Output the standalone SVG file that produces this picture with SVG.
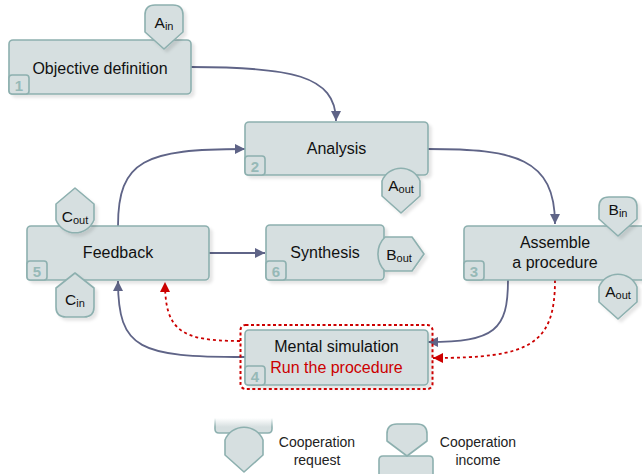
<svg xmlns="http://www.w3.org/2000/svg" width="642" height="474" viewBox="0 0 642 474">
<defs>
<style>
.box{fill:#d6dfe0;stroke:#8db0af;stroke-width:1.6}
.tab{fill:#d6dfe0;stroke:#8db0af;stroke-width:1.6;stroke-linejoin:round}
.num{font-family:"Liberation Sans",Arial,sans-serif;font-weight:bold;font-size:15px;fill:#96b9b7;text-anchor:middle}
.lbl{font-family:"Liberation Sans",Arial,sans-serif;font-size:16px;fill:#111;text-anchor:middle}
.red{fill:#cc0000}
.tl{font-family:"Liberation Sans",Arial,sans-serif;font-size:15.5px;fill:#111;text-anchor:middle}
.sub{font-size:11px}
.conn{fill:none;stroke:#5f6487;stroke-width:1.8;marker-end:url(#ah)}
.rconn{fill:none;stroke:#cc0000;stroke-width:1.8;stroke-dasharray:3 3;marker-end:url(#rah)}
.leg{font-family:"Liberation Sans",Arial,sans-serif;font-size:14px;fill:#222;text-anchor:middle}
.sh{filter:url(#sh)}
</style>
<marker id="ah" viewBox="0 0 10 10" refX="10" refY="5" markerWidth="11" markerHeight="10" markerUnits="userSpaceOnUse" orient="auto"><path d="M0,0 L10,5 L0,10 Z" fill="#5f6487"/></marker>
<marker id="rah" viewBox="0 0 10 10" refX="10" refY="5" markerWidth="11" markerHeight="10" markerUnits="userSpaceOnUse" orient="auto"><path d="M0,0 L10,5 L0,10 Z" fill="#cc0000"/></marker>
<filter id="sh" x="-10%" y="-10%" width="130%" height="140%"><feDropShadow dx="3" dy="3" stdDeviation="1.5" flood-color="#000" flood-opacity="0.1"/></filter>
<linearGradient id="fadeFill" x1="0" y1="0" x2="0" y2="1"><stop offset="0" stop-color="#d6dfe0" stop-opacity="0"/><stop offset="0.6" stop-color="#d6dfe0"/></linearGradient>
<linearGradient id="fadeStroke" x1="0" y1="0" x2="0" y2="1"><stop offset="0" stop-color="#8db0af" stop-opacity="0"/><stop offset="0.6" stop-color="#8db0af"/></linearGradient>
</defs>

<g id="connectors">
<path class="conn" d="M191,67 C290,67 336,75 336,121"/>
<path class="conn" d="M428,149 C515,149 555,158 555,224"/>
<path class="conn" d="M118,226 C118,160 145,149 245,149"/>
<path class="conn" d="M209,253 H265"/>
<path class="conn" d="M245,357 C140,357 118,350 118,281"/>
<path class="rconn" d="M240,341 C180,341 165,330 165,282"/>
<path class="conn" d="M508,280 C508,330 495,342 428,342"/>
<path class="rconn" d="M555,280 C555,345 530,358 433,358"/>
</g>

<g id="n1">
<rect class="box sh" x="9" y="40" width="182" height="54" rx="4"/>
<rect class="box" x="9" y="75" width="20" height="19" rx="3"/>
<text class="num" x="19" y="90.5">1</text>
<text class="lbl" x="100" y="74">Objective definition</text>
<path class="tab sh" d="M145,32 V15 Q145,5 155,5 H173 Q183,5 183,15 V32 L164,49 Z"/>
<text class="tl" x="164" y="28">A<tspan class="sub" dy="2">in</tspan></text>
</g>

<g id="n2">
<rect class="box sh" x="245" y="122" width="183" height="53" rx="4"/>
<rect class="box" x="245" y="156" width="20" height="19" rx="3"/>
<text class="num" x="255" y="171.5">2</text>
<text class="lbl" x="336.5" y="154">Analysis</text>
<path class="tab sh" d="M382,181 A20.5,20.5 0 0 1 420,181 V196 L401,213 L382,196 Z"/>
<text class="tl" x="401" y="191">A<tspan class="sub" dy="2">out</tspan></text>
</g>

<g id="n3">
<rect class="box sh" x="464" y="226" width="182" height="54" rx="4"/>
<rect class="box" x="464" y="261" width="20" height="19" rx="3"/>
<text class="num" x="474" y="276.5">3</text>
<text class="lbl" x="555" y="248">Assemble</text>
<text class="lbl" x="555" y="268">a procedure</text>
<path class="tab sh" d="M599,219 V207 Q599,197 609,197 H627 Q637,197 637,207 V219 L618,236 Z"/>
<text class="tl" x="618" y="215">B<tspan class="sub" dy="2">in</tspan></text>
<path class="tab sh" d="M599,287 A20.5,20.5 0 0 1 637,287 V302 L618,319 L599,302 Z"/>
<text class="tl" x="618" y="297">A<tspan class="sub" dy="2">out</tspan></text>
</g>

<g id="n4">
<rect class="box sh" x="245" y="330" width="183" height="55" rx="4"/>
<rect class="box" x="245" y="366" width="20" height="19" rx="3"/>
<text class="num" x="255" y="381.5">4</text>
<text class="lbl" x="336.5" y="352">Mental simulation</text>
<text class="lbl red" x="336.5" y="373">Run the procedure</text>
<rect x="240.5" y="325" width="192" height="64" rx="5" fill="none" stroke="#cc0000" stroke-width="2" stroke-dasharray="3 2.5"/>
</g>

<g id="n5">
<rect class="box sh" x="27" y="226" width="182" height="54" rx="4"/>
<rect class="box" x="27" y="261" width="20" height="19" rx="3"/>
<text class="num" x="37" y="276.5">5</text>
<text class="lbl" x="118" y="258">Feedback</text>
<path class="tab sh" d="M75,188 L94,204 V220 A20.5,20.5 0 0 1 56,220 V204 Z"/>
<text class="tl" x="75" y="222">C<tspan class="sub" dy="2">out</tspan></text>
<path class="tab sh" d="M75,273 L94,288 V307 Q94,317 84,317 H66 Q56,317 56,307 V288 Z"/>
<text class="tl" x="75" y="305">C<tspan class="sub" dy="2">in</tspan></text>
</g>

<g id="n6">
<rect class="box sh" x="266" y="225" width="118" height="55" rx="4"/>
<rect class="box" x="266" y="261" width="20" height="19" rx="3"/>
<text class="num" x="276" y="276.5">6</text>
<text class="lbl" x="325" y="258">Synthesis</text>
<path class="tab sh" d="M385,237 H412 L424,254 L412,271 H385 A24,24 0 0 1 385,237 Z"/>
<text class="tl" x="399" y="260">B<tspan class="sub" dy="2">out</tspan></text>
</g>

<g id="legend">
<path d="M215,418 V429 Q215,433 219,433 H268 Q272,433 272,429 V418 Z" fill="url(#fadeFill)"/>
<path d="M215,418 V429 Q215,433 219,433 H268 Q272,433 272,429 V418" fill="none" stroke="url(#fadeStroke)" stroke-width="1.6"/>
<path class="tab" d="M225,440 A20.5,20.5 0 0 1 263,440 V455 L244,472 L225,455 Z"/>
<text class="leg" x="317" y="447">Cooperation</text>
<text class="leg" x="317" y="465">request</text>
<path class="box" d="M379,480 V460 Q379,456 383,456 H429 Q433,456 433,460 V480 Z"/>
<path class="tab" d="M387,441 V434 Q387,424 397,424 H417 Q427,424 427,434 V441 L407,456 Z"/>
<text class="leg" x="478" y="447">Cooperation</text>
<text class="leg" x="478" y="465">income</text>
</g>
</svg>
